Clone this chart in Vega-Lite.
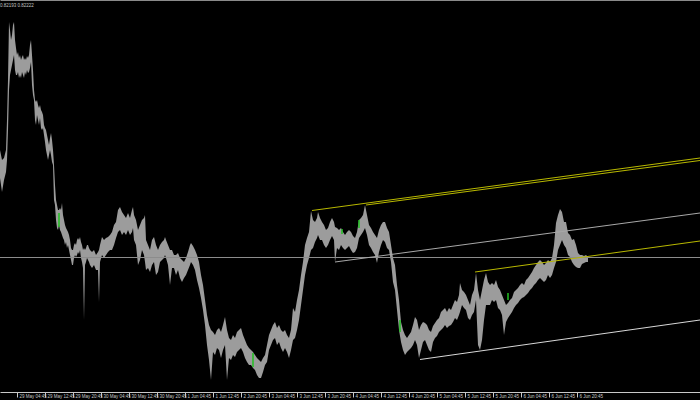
{
  "$schema": "https://vega.github.io/schema/vega-lite/v6.json",
  "width": 700,
  "height": 392,
  "padding": {"left": 0, "top": 0, "right": 0, "bottom": 8},
  "autosize": {"type": "none"},
  "background": "#000000",
  "config": {"view": {"stroke": null}},
  "title": {"text": "0.82193 0.82222", "anchor": "start", "frame": "group", "orient": "top", "offset": -7, "fontSize": 4.5, "font": "Liberation Sans", "fontWeight": "normal", "color": "#c0c0c0"},
  "datasets": {
    "bars": [
      {"n":0,"h":0.82400,"l":0.82344},{"n":2,"h":0.82380,"l":0.82316},{"n":4,"h":0.82384,"l":0.82340},{"n":6,"h":0.82400,"l":0.82356},
      {"n":7,"h":0.82460,"l":0.82380},{"n":8,"h":0.82540,"l":0.82440},{"n":9,"h":0.82656,"l":0.82520},{"n":10,"h":0.82640,"l":0.82550},
      {"n":11,"h":0.82620,"l":0.82560},{"n":12,"h":0.82630,"l":0.82570},{"n":13,"h":0.82650,"l":0.82580},{"n":14,"h":0.82656,"l":0.82590},
      {"n":15,"h":0.82620,"l":0.82560},{"n":16,"h":0.82604,"l":0.82550},{"n":17,"h":0.82590,"l":0.82550},{"n":18,"h":0.82596,"l":0.82556},
      {"n":19,"h":0.82584,"l":0.82544},{"n":20,"h":0.82590,"l":0.82550},{"n":21,"h":0.82580,"l":0.82544},{"n":22,"h":0.82586,"l":0.82556},
      {"n":23,"h":0.82590,"l":0.82550},{"n":24,"h":0.82580,"l":0.82544},{"n":25,"h":0.82584,"l":0.82556},{"n":26,"h":0.82580,"l":0.82550},
      {"n":27,"h":0.82588,"l":0.82560},{"n":28,"h":0.82584,"l":0.82554},{"n":29,"h":0.82590,"l":0.82556},{"n":30,"h":0.82610,"l":0.82564},
      {"n":31,"h":0.82620,"l":0.82576},{"n":32,"h":0.82590,"l":0.82530},{"n":33,"h":0.82560,"l":0.82510},{"n":34,"h":0.82520,"l":0.82500},
      {"n":35,"h":0.82500,"l":0.82460},{"n":36,"h":0.82496,"l":0.82450},{"n":37,"h":0.82500,"l":0.82470},{"n":38,"h":0.82490,"l":0.82460},
      {"n":39,"h":0.82484,"l":0.82450},{"n":40,"h":0.82490,"l":0.82464},{"n":41,"h":0.82480,"l":0.82444},{"n":42,"h":0.82476,"l":0.82440},
      {"n":43,"h":0.82470,"l":0.82444},{"n":44,"h":0.82450,"l":0.82430},{"n":45,"h":0.82444,"l":0.82416},{"n":46,"h":0.82440,"l":0.82400},
      {"n":47,"h":0.82430,"l":0.82390},{"n":48,"h":0.82420,"l":0.82380},{"n":49,"h":0.82410,"l":0.82390},{"n":50,"h":0.82424,"l":0.82400},
      {"n":51,"h":0.82434,"l":0.82390},{"n":52,"h":0.82420,"l":0.82376},{"n":53,"h":0.82400,"l":0.82370},{"n":54,"h":0.82370,"l":0.82300},
      {"n":55,"h":0.82330,"l":0.82290},{"n":56,"h":0.82300,"l":0.82260},{"n":57,"h":0.82290,"l":0.82244},{"n":58,"h":0.82280,"l":0.82240},
      {"n":59,"h":0.82280,"l":0.82250},{"n":60,"h":0.82284,"l":0.82240},{"n":61,"h":0.82280,"l":0.82236},{"n":62,"h":0.82294,"l":0.82230},
      {"n":63,"h":0.82270,"l":0.82224},{"n":64,"h":0.82260,"l":0.82220},{"n":65,"h":0.82250,"l":0.82210},{"n":66,"h":0.82244,"l":0.82216},
      {"n":67,"h":0.82240,"l":0.82204},{"n":68,"h":0.82236,"l":0.82210},{"n":69,"h":0.82230,"l":0.82200},{"n":70,"h":0.82220,"l":0.82190},
      {"n":71,"h":0.82204,"l":0.82180},{"n":72,"h":0.82200,"l":0.82170},{"n":73,"h":0.82200,"l":0.82170},{"n":74,"h":0.82210,"l":0.82184},
      {"n":75,"h":0.82214,"l":0.82190},{"n":76,"h":0.82210,"l":0.82186},{"n":77,"h":0.82220,"l":0.82190},{"n":78,"h":0.82224,"l":0.82196},
      {"n":79,"h":0.82220,"l":0.82192},{"n":80,"h":0.82226,"l":0.82200},{"n":81,"h":0.82216,"l":0.82184},{"n":82,"h":0.82210,"l":0.82176},
      {"n":83,"h":0.82200,"l":0.82164},{"n":84,"h":0.82204,"l":0.82060},{"n":85,"h":0.82200,"l":0.82170},{"n":86,"h":0.82204,"l":0.82176},
      {"n":87,"h":0.82210,"l":0.82184},{"n":88,"h":0.82210,"l":0.82180},{"n":89,"h":0.82204,"l":0.82176},{"n":90,"h":0.82200,"l":0.82170},
      {"n":92,"h":0.82196,"l":0.82164},{"n":94,"h":0.82200,"l":0.82170},{"n":96,"h":0.82190,"l":0.82160},{"n":98,"h":0.82196,"l":0.82160},
      {"n":99,"h":0.82200,"l":0.82096},{"n":100,"h":0.82210,"l":0.82176},{"n":102,"h":0.82226,"l":0.82190},{"n":104,"h":0.82220,"l":0.82184},
      {"n":106,"h":0.82224,"l":0.82190},{"n":108,"h":0.82226,"l":0.82196},{"n":110,"h":0.82230,"l":0.82200},{"n":112,"h":0.82236,"l":0.82200},
      {"n":114,"h":0.82250,"l":0.82210},{"n":116,"h":0.82256,"l":0.82224},{"n":118,"h":0.82280,"l":0.82236},{"n":120,"h":0.82286,"l":0.82240},
      {"n":122,"h":0.82276,"l":0.82230},{"n":124,"h":0.82270,"l":0.82236},{"n":126,"h":0.82264,"l":0.82230},{"n":128,"h":0.82274,"l":0.82240},
      {"n":130,"h":0.82264,"l":0.82230},{"n":132,"h":0.82280,"l":0.82236},{"n":133,"h":0.82286,"l":0.82244},{"n":134,"h":0.82270,"l":0.82220},
      {"n":136,"h":0.82260,"l":0.82210},{"n":138,"h":0.82240,"l":0.82170},{"n":140,"h":0.82250,"l":0.82180},{"n":142,"h":0.82260,"l":0.82200},
      {"n":144,"h":0.82264,"l":0.82190},{"n":145,"h":0.82270,"l":0.82176},{"n":146,"h":0.82220,"l":0.82160},{"n":148,"h":0.82210,"l":0.82164},
      {"n":150,"h":0.82200,"l":0.82156},{"n":152,"h":0.82220,"l":0.82170},{"n":154,"h":0.82226,"l":0.82176},{"n":156,"h":0.82210,"l":0.82150},
      {"n":158,"h":0.82200,"l":0.82156},{"n":160,"h":0.82210,"l":0.82176},{"n":162,"h":0.82216,"l":0.82180},{"n":164,"h":0.82220,"l":0.82184},
      {"n":165,"h":0.82226,"l":0.82190},{"n":166,"h":0.82220,"l":0.82184},{"n":168,"h":0.82210,"l":0.82170},{"n":170,"h":0.82200,"l":0.82130},
      {"n":172,"h":0.82200,"l":0.82164},{"n":174,"h":0.82190,"l":0.82164},{"n":176,"h":0.82190,"l":0.82150},{"n":178,"h":0.82194,"l":0.82160},
      {"n":180,"h":0.82184,"l":0.82144},{"n":182,"h":0.82180,"l":0.82136},{"n":184,"h":0.82176,"l":0.82144},{"n":186,"h":0.82184,"l":0.82150},
      {"n":188,"h":0.82196,"l":0.82160},{"n":190,"h":0.82210,"l":0.82170},{"n":191,"h":0.82214,"l":0.82176},{"n":193,"h":0.82208,"l":0.82170},
      {"n":195,"h":0.82200,"l":0.82160},{"n":197,"h":0.82190,"l":0.82140},{"n":199,"h":0.82176,"l":0.82124},{"n":201,"h":0.82150,"l":0.82104},
      {"n":203,"h":0.82130,"l":0.82080},{"n":205,"h":0.82100,"l":0.82050},{"n":207,"h":0.82070,"l":0.82010},{"n":209,"h":0.82050,"l":0.81980},
      {"n":211,"h":0.82040,"l":0.81940},{"n":213,"h":0.82036,"l":0.81996},{"n":215,"h":0.82030,"l":0.81990},{"n":217,"h":0.82040,"l":0.82004},
      {"n":219,"h":0.82044,"l":0.82000},{"n":221,"h":0.82036,"l":0.81984},{"n":223,"h":0.82050,"l":0.82000},{"n":225,"h":0.82066,"l":0.82010},
      {"n":227,"h":0.82040,"l":0.81940},{"n":229,"h":0.82024,"l":0.81984},{"n":231,"h":0.82020,"l":0.81980},{"n":233,"h":0.82030,"l":0.81990},
      {"n":235,"h":0.82024,"l":0.81986},{"n":237,"h":0.82036,"l":0.81996},{"n":239,"h":0.82040,"l":0.82000},{"n":241,"h":0.82044,"l":0.82004},
      {"n":243,"h":0.82030,"l":0.81996},{"n":245,"h":0.82020,"l":0.81984},{"n":247,"h":0.82010,"l":0.81976},{"n":249,"h":0.82004,"l":0.81970},
      {"n":251,"h":0.82000,"l":0.81970},{"n":253,"h":0.81996,"l":0.81964},{"n":255,"h":0.81990,"l":0.81960},{"n":257,"h":0.81984,"l":0.81950},
      {"n":259,"h":0.81980,"l":0.81944},{"n":261,"h":0.81976,"l":0.81944},{"n":263,"h":0.81984,"l":0.81956},{"n":265,"h":0.81990,"l":0.81970},
      {"n":267,"h":0.82010,"l":0.81976},{"n":269,"h":0.82030,"l":0.82000},{"n":271,"h":0.82040,"l":0.82010},{"n":273,"h":0.82050,"l":0.82020},
      {"n":275,"h":0.82056,"l":0.82024},{"n":277,"h":0.82044,"l":0.82010},{"n":279,"h":0.82050,"l":0.82016},{"n":281,"h":0.82040,"l":0.82004},
      {"n":283,"h":0.82036,"l":0.81996},{"n":285,"h":0.82040,"l":0.82004},{"n":287,"h":0.82030,"l":0.81996},{"n":289,"h":0.82024,"l":0.81984},
      {"n":291,"h":0.82040,"l":0.82000},{"n":293,"h":0.82084,"l":0.82020},{"n":295,"h":0.82076,"l":0.82024},{"n":297,"h":0.82100,"l":0.82040},
      {"n":299,"h":0.82120,"l":0.82060},{"n":301,"h":0.82150,"l":0.82090},{"n":303,"h":0.82176,"l":0.82120},{"n":305,"h":0.82210,"l":0.82150},
      {"n":307,"h":0.82224,"l":0.82170},{"n":309,"h":0.82236,"l":0.82184},{"n":311,"h":0.82278,"l":0.82200},{"n":313,"h":0.82260,"l":0.82204},
      {"n":315,"h":0.82256,"l":0.82216},{"n":317,"h":0.82264,"l":0.82224},{"n":318,"h":0.82276,"l":0.82230},{"n":320,"h":0.82264,"l":0.82220},
      {"n":322,"h":0.82256,"l":0.82220},{"n":324,"h":0.82250,"l":0.82210},{"n":326,"h":0.82240,"l":0.82204},{"n":328,"h":0.82244,"l":0.82210},
      {"n":330,"h":0.82256,"l":0.82220},{"n":332,"h":0.82264,"l":0.82228},{"n":334,"h":0.82256,"l":0.82220},{"n":335,"h":0.82246,"l":0.82176},
      {"n":337,"h":0.82244,"l":0.82204},{"n":339,"h":0.82240,"l":0.82200},{"n":341,"h":0.82244,"l":0.82210},{"n":343,"h":0.82236,"l":0.82204},
      {"n":345,"h":0.82230,"l":0.82200},{"n":347,"h":0.82236,"l":0.82204},{"n":349,"h":0.82240,"l":0.82208},{"n":351,"h":0.82236,"l":0.82200},
      {"n":353,"h":0.82228,"l":0.82194},{"n":355,"h":0.82224,"l":0.82196},{"n":357,"h":0.82236,"l":0.82204},{"n":359,"h":0.82260,"l":0.82224},
      {"n":361,"h":0.82264,"l":0.82230},{"n":363,"h":0.82270,"l":0.82236},{"n":365,"h":0.82290,"l":0.82244},{"n":367,"h":0.82270,"l":0.82230},
      {"n":369,"h":0.82250,"l":0.82210},{"n":371,"h":0.82244,"l":0.82204},{"n":373,"h":0.82236,"l":0.82196},{"n":375,"h":0.82230,"l":0.82190},
      {"n":377,"h":0.82224,"l":0.82174},{"n":379,"h":0.82240,"l":0.82196},{"n":381,"h":0.82250,"l":0.82210},{"n":383,"h":0.82256,"l":0.82220},
      {"n":385,"h":0.82256,"l":0.82216},{"n":387,"h":0.82244,"l":0.82204},{"n":389,"h":0.82236,"l":0.82200},{"n":391,"h":0.82210,"l":0.82176},
      {"n":393,"h":0.82184,"l":0.82136},{"n":395,"h":0.82170,"l":0.82120},{"n":397,"h":0.82130,"l":0.82080},{"n":399,"h":0.82100,"l":0.82040},
      {"n":401,"h":0.82056,"l":0.82016},{"n":403,"h":0.82040,"l":0.82000},{"n":405,"h":0.82030,"l":0.81990},{"n":407,"h":0.82024,"l":0.81996},
      {"n":409,"h":0.82030,"l":0.82000},{"n":411,"h":0.82036,"l":0.82004},{"n":413,"h":0.82050,"l":0.82010},{"n":415,"h":0.82066,"l":0.82020},
      {"n":417,"h":0.82060,"l":0.82010},{"n":419,"h":0.82040,"l":0.81984},{"n":421,"h":0.82050,"l":0.82000},{"n":423,"h":0.82056,"l":0.82016},
      {"n":425,"h":0.82054,"l":0.82020},{"n":427,"h":0.82050,"l":0.82010},{"n":429,"h":0.82040,"l":0.82000},{"n":431,"h":0.82036,"l":0.81996},
      {"n":433,"h":0.82048,"l":0.82016},{"n":435,"h":0.82054,"l":0.82024},{"n":437,"h":0.82060,"l":0.82028},{"n":439,"h":0.82064,"l":0.82036},
      {"n":441,"h":0.82076,"l":0.82040},{"n":443,"h":0.82080,"l":0.82044},{"n":445,"h":0.82084,"l":0.82050},{"n":447,"h":0.82076,"l":0.82044},
      {"n":449,"h":0.82084,"l":0.82048},{"n":451,"h":0.82080,"l":0.82050},{"n":453,"h":0.82090,"l":0.82056},{"n":455,"h":0.82100,"l":0.82064},
      {"n":457,"h":0.82096,"l":0.82060},{"n":459,"h":0.82110,"l":0.82070},{"n":460,"h":0.82134,"l":0.82076},{"n":462,"h":0.82120,"l":0.82090},
      {"n":464,"h":0.82116,"l":0.82084},{"n":466,"h":0.82110,"l":0.82080},{"n":468,"h":0.82100,"l":0.82064},{"n":470,"h":0.82090,"l":0.82060},
      {"n":472,"h":0.82110,"l":0.82070},{"n":474,"h":0.82120,"l":0.82076},{"n":476,"h":0.82154,"l":0.82100},{"n":478,"h":0.82120,"l":0.82010},
      {"n":480,"h":0.82100,"l":0.82000},{"n":482,"h":0.82120,"l":0.82020},{"n":484,"h":0.82140,"l":0.82060},{"n":486,"h":0.82154,"l":0.82090},
      {"n":488,"h":0.82136,"l":0.82090},{"n":490,"h":0.82130,"l":0.82090},{"n":492,"h":0.82134,"l":0.82100},{"n":494,"h":0.82130,"l":0.82096},
      {"n":496,"h":0.82140,"l":0.82100},{"n":498,"h":0.82126,"l":0.82084},{"n":500,"h":0.82120,"l":0.82080},{"n":502,"h":0.82110,"l":0.82070},
      {"n":504,"h":0.82100,"l":0.82030},{"n":506,"h":0.82090,"l":0.82056},{"n":508,"h":0.82094,"l":0.82064},{"n":510,"h":0.82100,"l":0.82070},
      {"n":512,"h":0.82104,"l":0.82076},{"n":514,"h":0.82116,"l":0.82084},{"n":516,"h":0.82120,"l":0.82090},{"n":518,"h":0.82124,"l":0.82094},
      {"n":520,"h":0.82130,"l":0.82100},{"n":522,"h":0.82134,"l":0.82104},{"n":524,"h":0.82130,"l":0.82106},{"n":526,"h":0.82140,"l":0.82110},
      {"n":528,"h":0.82144,"l":0.82114},{"n":530,"h":0.82150,"l":0.82120},{"n":532,"h":0.82156,"l":0.82124},{"n":534,"h":0.82164,"l":0.82130},
      {"n":536,"h":0.82170,"l":0.82134},{"n":538,"h":0.82176,"l":0.82140},{"n":540,"h":0.82180,"l":0.82144},{"n":542,"h":0.82176,"l":0.82140},
      {"n":544,"h":0.82170,"l":0.82136},{"n":546,"h":0.82174,"l":0.82140},{"n":548,"h":0.82180,"l":0.82150},{"n":550,"h":0.82176,"l":0.82144},
      {"n":552,"h":0.82184,"l":0.82150},{"n":554,"h":0.82210,"l":0.82164},{"n":556,"h":0.82254,"l":0.82176},{"n":558,"h":0.82270,"l":0.82200},
      {"n":560,"h":0.82282,"l":0.82210},{"n":562,"h":0.82276,"l":0.82220},{"n":564,"h":0.82256,"l":0.82210},{"n":566,"h":0.82256,"l":0.82204},
      {"n":568,"h":0.82234,"l":0.82190},{"n":570,"h":0.82230,"l":0.82186},{"n":572,"h":0.82220,"l":0.82176},{"n":574,"h":0.82222,"l":0.82170},
      {"n":576,"h":0.82210,"l":0.82166},{"n":578,"h":0.82194,"l":0.82164},{"n":580,"h":0.82190,"l":0.82164},{"n":582,"h":0.82190,"l":0.82172},
      {"n":584,"h":0.82188,"l":0.82174},{"n":586,"h":0.82190,"l":0.82176},{"n":588,"h":0.82186,"l":0.82176}
    ],
    "green": [
      {"n":59,"h":0.82274,"l":0.82246},{"n":253,"h":0.81994,"l":0.81966},{"n":342,"h":0.82242,"l":0.82232},
      {"n":359,"h":0.82260,"l":0.82244},{"n":400,"h":0.82060,"l":0.82036},{"n":508,"h":0.82114,"l":0.82100}
    ],
    "levels": [{"p":0.82185}],
    "lines": [
      {"id":"A","n":312,"p":0.82279},{"id":"A","n":700,"p":0.82384},
      {"id":"B","n":366,"p":0.82290},{"id":"B","n":700,"p":0.82379},
      {"id":"C","n":335,"p":0.82176},{"id":"C","n":700,"p":0.82274},
      {"id":"D","n":475,"p":0.82156},{"id":"D","n":700,"p":0.82218},
      {"id":"E","n":420,"p":0.81981},{"id":"E","n":700,"p":0.82060}
    ]
  },
  "resolve": {"axis": {"x": "independent"}},
  "layer": [
    {
      "data": {"name": "bars"},
      "mark": {"type": "area", "color": "#9c9c9c", "interpolate": "linear"},
      "encoding": {
        "x": {"field": "n", "type": "quantitative", "scale": {"domain": [0, 700], "nice": false, "zero": false},
          "axis": {"orient": "bottom", "values": [-11,17,45,73,101,129,157,185,213,241,269,297,325,353,381,409,437,465,493,521,549,577],
            "labelExpr": "['28 May 20:45','29 May 04:45','29 May 12:45','29 May 20:45','30 May 04:45','30 May 12:45','30 May 20:45','1 Jun 04:45','1 Jun 12:45','2 Jun 20:45','3 Jun 04:45','3 Jun 12:45','3 Jun 20:45','4 Jun 04:45','4 Jun 12:45','4 Jun 20:45','5 Jun 04:45','5 Jun 12:45','5 Jun 20:45','6 Jun 04:45','6 Jun 12:45','6 Jun 20:45'][round((datum.value+11)/28)]",
            "domainColor": "#c8c8c8", "tickColor": "#c8c8c8", "tickSize": 5, "labelColor": "#c8c8c8", "labelFontSize": 4.5, "labelFont": "Liberation Sans",
            "labelAlign": "left", "labelBaseline": "middle", "labelPadding": -1, "labelOffset": 2, "labelFlush": false, "labelOverlap": false, "labelBound": false, "grid": false, "title": null}},
        "y": {"field": "l", "type": "quantitative", "scale": {"domain": [0.81916, 0.8270], "nice": false, "zero": false}, "axis": null},
        "y2": {"field": "h"}
      }
    },
    {
      "data": {"name": "green"},
      "mark": {"type": "rule", "color": "#22c022", "strokeWidth": 1.5},
      "encoding": {
        "x": {"field": "n", "type": "quantitative", "axis": null},
        "y": {"field": "l", "type": "quantitative"},
        "y2": {"field": "h"}
      }
    },
    {
      "data": {"name": "levels"},
      "mark": {"type": "rule", "color": "#8c8c8c", "strokeWidth": 1},
      "encoding": {
        "y": {"field": "p", "type": "quantitative"}
      }
    },
    {
      "data": {"name": "lines"},
      "mark": {"type": "line", "strokeWidth": 1},
      "encoding": {
        "x": {"field": "n", "type": "quantitative",
          "axis": {"orient": "top", "labels": false, "ticks": false, "domainColor": "#8a8a8a", "grid": false, "title": null}},
        "y": {"field": "p", "type": "quantitative"},
        "color": {"field": "id", "type": "nominal", "legend": null,
          "scale": {"domain": ["A","B","C","D","E"], "range": ["#b8b800","#b8b800","#a8a8a8","#b8b800","#d8d8d8"]}}
      }
    }
  ]
}
